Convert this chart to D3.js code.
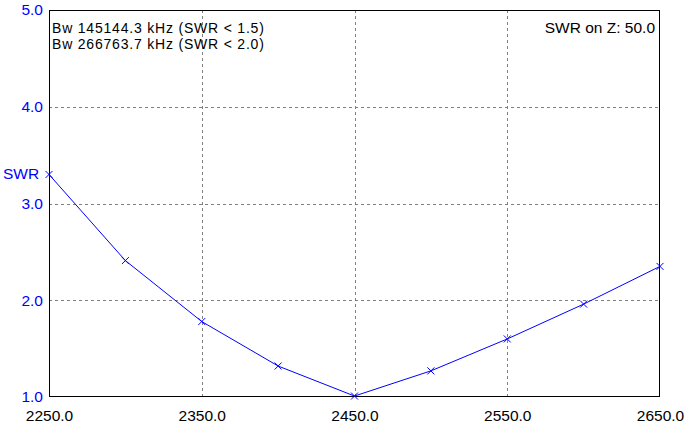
<!DOCTYPE html>
<html><head><meta charset="utf-8">
<script src="https://cdn.jsdelivr.net/npm/d3@7"></script>
<style>
html,body{margin:0;padding:0;background:#fff;}
svg text{font-family:"Liberation Sans",Arial,sans-serif;}
</style></head>
<body><svg id="c" width="691" height="427"></svg>
<script>
const freqs = [2250, 2300, 2350, 2400, 2450, 2500, 2550, 2600, 2650];
const swr = [3.30, 2.41, 1.78, 1.32, 1.01, 1.27, 1.60, 1.96, 2.35];
const xTicks = [2250, 2350, 2450, 2550, 2650];
const yTicks = [1, 2, 3, 4, 5];
const infoLines = ["Bw 145144.3 kHz (SWR < 1.5)", "Bw 266763.7 kHz (SWR < 2.0)"];
const zLabel = "SWR on Z: 50.0";
const yTitle = "SWR";

const svg = d3.select("#c");
const L = 49, R = 660, T = 10, B = 397;
const x = d3.scaleLinear().domain([2250, 2650]).range([L, R]);
const y = d3.scaleLinear().domain([1, 5]).range([B, T]);
const fs = "15.5px";

svg.append("rect").attr("width", 691).attr("height", 427).attr("fill", "#fff");

// grid
const g = svg.append("g");
g.selectAll("line.vx").data(xTicks.slice(1, -1)).join("line")
  .attr("x1", d => Math.round(x(d)) + 0.5).attr("x2", d => Math.round(x(d)) + 0.5)
  .attr("y1", T).attr("y2", B)
  .attr("stroke", "#808080").attr("stroke-dasharray", "3,3");
g.selectAll("line.hy").data(yTicks.slice(1, -1)).join("line")
  .attr("y1", d => Math.round(y(d)) + 0.5).attr("y2", d => Math.round(y(d)) + 0.5)
  .attr("x1", L).attr("x2", R)
  .attr("stroke", "#808080").attr("stroke-dasharray", "3,3");

// frame
svg.append("rect").attr("x", L + 0.5).attr("y", T + 0.5)
  .attr("width", R - L - 1).attr("height", B - T - 1)
  .attr("fill", "none").attr("stroke", "#000");

// axes labels
const xAxis = d3.axisBottom(x).tickValues(xTicks).tickSize(0).tickFormat(d3.format(".1f"));
const xa = svg.append("g").attr("transform", `translate(0,${B})`).call(xAxis);
xa.select(".domain").remove();
xa.selectAll("text").attr("fill", "#000").attr("font-size", fs)
  .attr("font-family", "Liberation Sans, Arial, sans-serif").attr("dy", null).attr("y", 24);

const yAxis = d3.axisLeft(y).tickValues(yTicks).tickSize(0).tickFormat(d3.format(".1f"));
const ya = svg.append("g").attr("transform", `translate(${L - 5},0)`).call(yAxis);
ya.select(".domain").remove();
ya.selectAll("text").attr("fill", "#0000ff").attr("font-size", fs)
  .attr("font-family", "Liberation Sans, Arial, sans-serif").attr("x", -1);

svg.append("text").attr("x", 3).attr("y", 179).attr("fill", "#0000ff")
  .attr("font-size", fs).text(yTitle);

// line
const line = d3.line().x((d, i) => x(freqs[i])).y(d => y(d));
svg.append("path").datum(swr).attr("d", line)
  .attr("fill", "none").attr("stroke", "#0000ff").attr("stroke-width", 1);

// markers
const s = 3.5;
const mk = svg.append("g").attr("stroke", "#0000ff").attr("stroke-width", 1);
swr.forEach((v, i) => {
  const cx = x(freqs[i]), cy = y(v);
  mk.append("line").attr("x1", cx - s).attr("y1", cy - s).attr("x2", cx + s).attr("y2", cy + s);
  mk.append("line").attr("x1", cx - s).attr("y1", cy + s).attr("x2", cx + s).attr("y2", cy - s);
});

// info text
svg.selectAll("text.info").data(infoLines).join("text").attr("class", "info")
  .attr("x", 52).attr("y", (d, i) => 32.5 + i * 16).attr("fill", "#000")
  .attr("font-size", "14px").attr("letter-spacing", "0.8px").text(d => d);
svg.append("text").attr("x", 655).attr("y", 33).attr("text-anchor", "end")
  .attr("fill", "#000").attr("font-size", fs).text(zLabel);
</script></body></html>
